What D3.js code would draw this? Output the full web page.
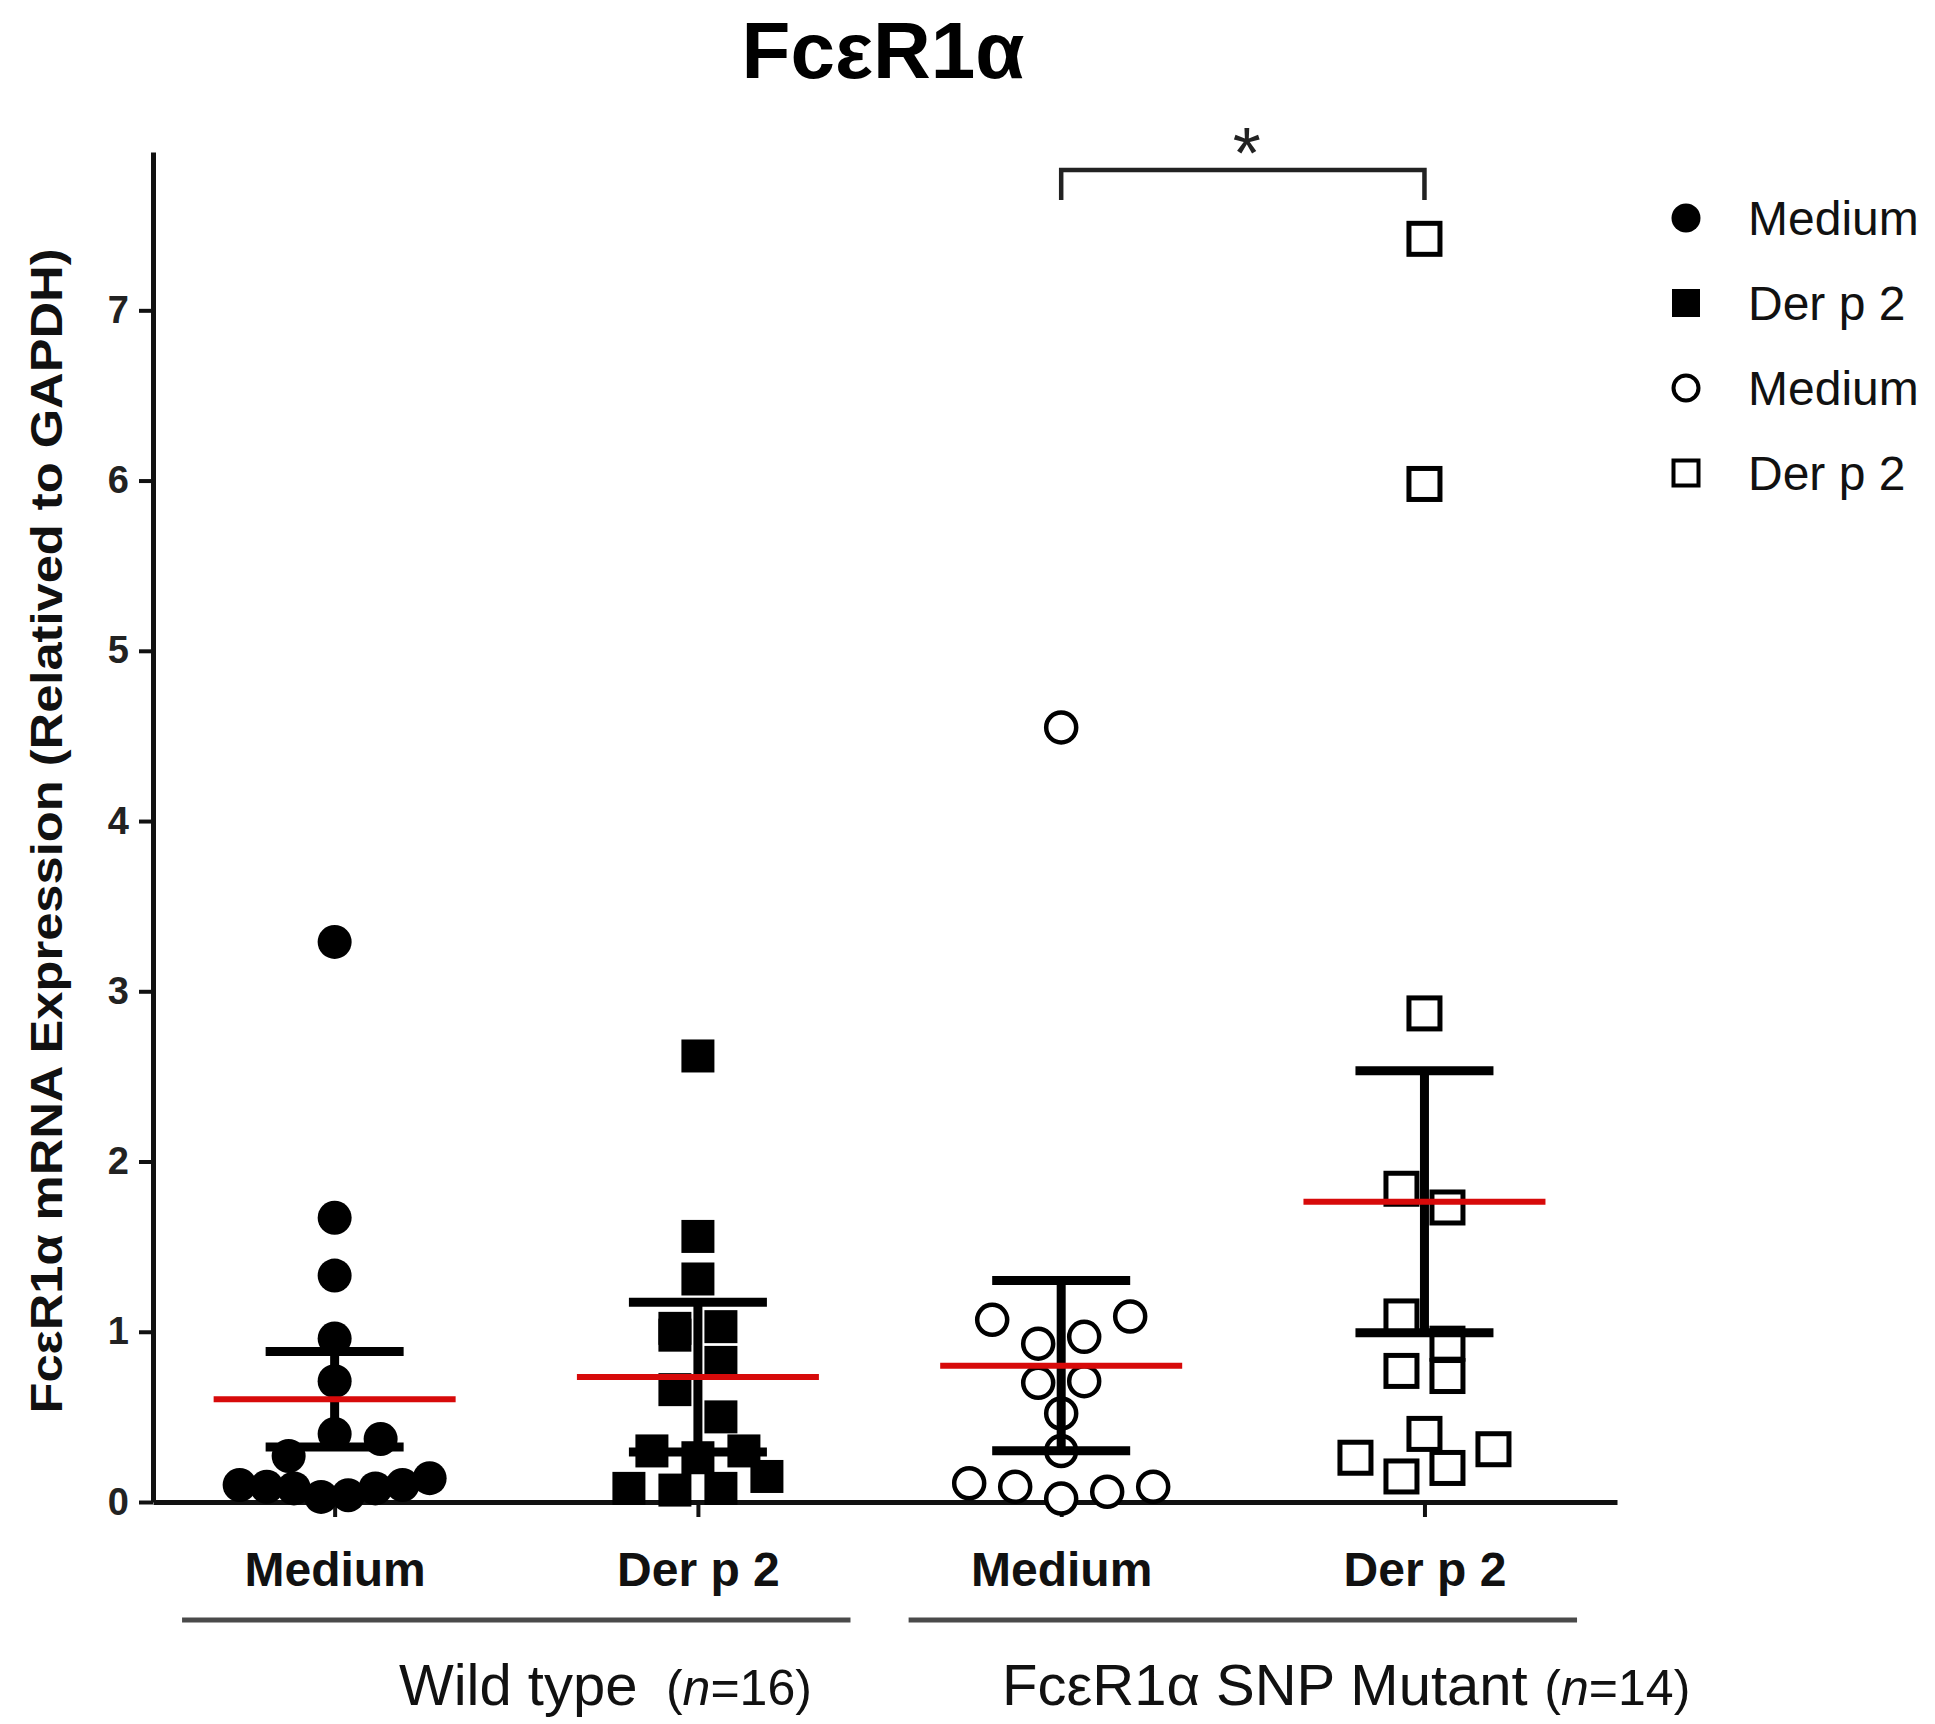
<!DOCTYPE html>
<html><head><meta charset="utf-8">
<script src="https://cdn.jsdelivr.net/npm/d3@7"></script>
<style>
body{margin:0;background:#fff;}
svg{display:block;font-family:"Liberation Sans",Arial,Helvetica,sans-serif;}
</style>
</head><body>
<svg id="chart" width="1935" height="1724"></svg>
<script>
// ---------- data ----------
const titleText = "FcεR1α";
const yLabelText = "FcεR1α mRNA Expression (Relatived to GAPDH)";
const categories = ["Medium", "Der p 2", "Medium", "Der p 2"];
const genotypes = ["Wild type", "FcεR1α SNP Mutant"];
const genotypeN = ["16", "14"];
const yTicks = [0, 1, 2, 3, 4, 5, 6, 7];
const legendLabels = ["Medium", "Der p 2", "Medium", "Der p 2"];
const wtMedium  = [3.29, 1.67, 1.33, 0.96, 0.71, 0.27, 0.40, 0.37, 0.10, 0.09, 0.08, 0.03, 0.04, 0.08, 0.10, 0.14];
const wtDerp2   = [2.62, 1.56, 1.31, 1.02, 0.98, 1.03, 0.82, 0.66, 0.50, 0.30, 0.26, 0.08, 0.07, 0.08, 0.15, 0.30];
const mutMedium = [4.55, 1.07, 0.93, 0.97, 1.09, 0.70, 0.71, 0.52, 0.30, 0.11, 0.09, 0.02, 0.06, 0.09];
const mutDerp2  = [7.42, 5.98, 2.87, 1.84, 1.73, 1.09, 0.77, 0.74, 0.93, 0.40, 0.26, 0.15, 0.20, 0.31];
const semValues = [0.28, 0.44, 0.50, 0.77];
const significance = "*";

// ---------- setup ----------
const seriesValues = [wtMedium, wtDerp2, mutMedium, mutDerp2];
const markerKinds = ["circle-filled", "square-filled", "circle-open", "square-open"];
const svg = d3.select("#chart");

const x = d3.scaleLinear().domain([-0.5, 3.53]).range([153, 1617]);
const y = d3.scaleLinear().domain([0, 7.93]).range([1502, 152]);

const AX = "#111";

// title
svg.append("text").attr("x", 883).attr("y", 78).attr("text-anchor", "middle")
  .attr("font-size", 80).attr("font-weight", "bold").attr("fill", "#000").text(titleText);

// y label
svg.append("text").attr("transform", "translate(62,831) rotate(-90)")
  .attr("text-anchor", "middle")
  .attr("textLength", 1165).attr("lengthAdjust", "spacingAndGlyphs")
  .attr("font-size", 44).attr("font-weight", "bold").attr("fill", "#111").text(yLabelText);

// axes
const yAxis = svg.append("g").attr("transform", `translate(${x(-0.5)},0)`)
  .call(d3.axisLeft(y).tickValues(yTicks).tickSize(14).tickSizeOuter(0).tickPadding(10).tickFormat(d3.format("d")));
yAxis.select(".domain").attr("stroke", AX).attr("stroke-width", 5);
yAxis.selectAll(".tick line").attr("stroke", AX).attr("stroke-width", 4);
yAxis.selectAll(".tick text").attr("font-size", 38).attr("font-weight", "bold").attr("fill", "#222")
  .attr("font-family", "'Liberation Sans',Arial,sans-serif");

const xAxis = svg.append("g").attr("transform", `translate(0,${y(0)})`)
  .call(d3.axisBottom(x).tickValues([0, 1, 2, 3]).tickSize(15).tickSizeOuter(0).tickFormat(i => categories[i]));
xAxis.select(".domain").attr("stroke", AX).attr("stroke-width", 5);
xAxis.selectAll(".tick line").attr("stroke", AX).attr("stroke-width", 4);
xAxis.selectAll(".tick text").attr("y", 84).attr("dy", null).attr("font-size", 48).attr("font-weight", "bold")
  .attr("fill", "#111").attr("font-family", "'Liberation Sans',Arial,sans-serif");

// group lines and labels
const groupSpans = [[-0.42, 1.42], [1.58, 3.42]];
svg.selectAll(".grpline").data(groupSpans).join("line").attr("class", "grpline")
  .attr("x1", d => x(d[0])).attr("x2", d => x(d[1])).attr("y1", 1620).attr("y2", 1620)
  .attr("stroke", "#4a4a4a").attr("stroke-width", 5);

const gl = svg.append("g").attr("fill", "#111");
const glX = [x(0.177), x(1.837)];
const glNX = [x(0.912), x(3.33)];
genotypes.forEach((g, i) => {
  gl.append("text").attr("x", glX[i]).attr("y", 1705).attr("font-size", 58).text(g);
  const t = gl.append("text").attr("x", glNX[i]).attr("y", 1705).attr("font-size", 50);
  t.append("tspan").text("(");
  t.append("tspan").attr("font-style", "italic").text("n");
  t.append("tspan").text("=" + genotypeN[i] + ")");
});

// beeswarm offsets (rows of nearby values spread horizontally)
function swarm(values, rowPx, maxStep, maxWidth) {
  const idx = values.map((v, i) => i).sort((a, b) => values[a] - values[b]);
  const rows = []; let cur = null;
  idx.forEach(i => {
    if (cur && (y(values[cur.start]) - y(values[i])) < rowPx) cur.items.push(i);
    else { cur = {start: i, items: [i]}; rows.push(cur); }
  });
  const off = new Array(values.length).fill(0);
  rows.forEach(r => {
    r.items.sort((a, b) => a - b);
    const n = r.items.length;
    const step = n > 1 ? Math.min(maxStep, maxWidth / (n - 1)) : 0;
    r.items.forEach((i, k) => off[i] = (k - (n - 1) / 2) * step);
  });
  return off;
}

const pts = svg.append("g");
seriesValues.forEach((vals, gi) => {
  const off = swarm(vals, 30, 46, 190);
  const kind = markerKinds[gi];
  const data = vals.map((v, i) => ({v, cx: x(gi) + off[i]}));
  if (kind.startsWith("circle")) {
    const open = kind.endsWith("open");
    pts.selectAll(null).data(data).join("circle")
      .attr("cx", d => d.cx).attr("cy", d => y(d.v)).attr("r", open ? 15 : 17)
      .attr("fill", open ? "#fff" : "#000").attr("stroke", open ? "#000" : "none").attr("stroke-width", 4.5);
  } else {
    const open = kind.endsWith("open");
    const s = open ? 31 : 33;
    pts.selectAll(null).data(data).join("rect")
      .attr("x", d => d.cx - s / 2).attr("y", d => y(d.v) - s / 2).attr("width", s).attr("height", s)
      .attr("fill", open ? "#fff" : "#000").attr("stroke", open ? "#000" : "none").attr("stroke-width", 5);
  }
});

// error bars + mean lines
const stats = seriesValues.map((vals, gi) => ({gi, mean: d3.mean(vals), sem: semValues[gi]}));
const eb = svg.append("g").attr("stroke", "#000").attr("stroke-width", 9);
stats.forEach(s => {
  eb.append("line").attr("x1", x(s.gi)).attr("x2", x(s.gi)).attr("y1", y(s.mean - s.sem)).attr("y2", y(s.mean + s.sem));
  [s.mean - s.sem, s.mean + s.sem].forEach(v => {
    eb.append("line").attr("x1", x(s.gi) - 69).attr("x2", x(s.gi) + 69).attr("y1", y(v)).attr("y2", y(v));
  });
});
svg.append("g").selectAll("line").data(stats).join("line")
  .attr("x1", d => x(d.gi) - 121).attr("x2", d => x(d.gi) + 121)
  .attr("y1", d => y(d.mean)).attr("y2", d => y(d.mean))
  .attr("stroke", "#d70a0a").attr("stroke-width", 6);

// significance bracket
const br = svg.append("g");
br.append("path")
  .attr("d", `M${x(2)},200V170H${x(3)}V200`)
  .attr("fill", "none").attr("stroke", "#222").attr("stroke-width", 4.5);
br.append("text").attr("x", (x(2) + x(3)) / 2 + 4).attr("y", 178).attr("text-anchor", "middle")
  .attr("font-size", 72).attr("fill", "#222").text(significance);

// legend
const lg = svg.append("g");
const legY = d3.scalePoint().domain(d3.range(4)).range([218, 473]);
legendLabels.forEach((lab, i) => {
  const cy = legY(i), cx = 1686, kind = markerKinds[i], open = kind.endsWith("open");
  if (kind.startsWith("circle")) {
    lg.append("circle").attr("cx", cx).attr("cy", cy).attr("r", open ? 12.5 : 14.5)
      .attr("fill", open ? "#fff" : "#000").attr("stroke", open ? "#000" : "none").attr("stroke-width", 4);
  } else {
    const s = open ? 25 : 28;
    lg.append("rect").attr("x", cx - s / 2).attr("y", cy - s / 2).attr("width", s).attr("height", s)
      .attr("fill", open ? "#fff" : "#000").attr("stroke", open ? "#000" : "none").attr("stroke-width", 4);
  }
  lg.append("text").attr("x", 1748).attr("y", cy).attr("dy", "0.36em").attr("font-size", 48)
    .attr("fill", "#111").text(lab);
});
</script>
</body></html>
